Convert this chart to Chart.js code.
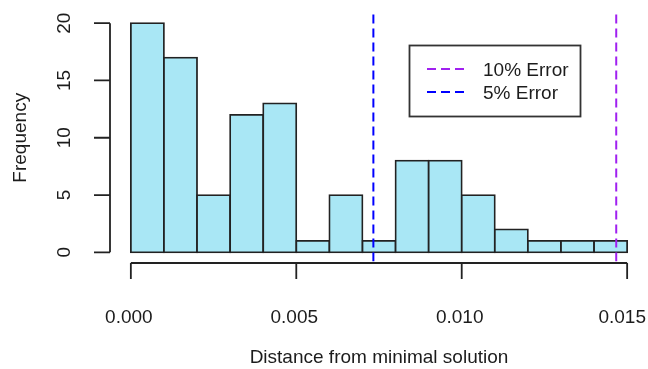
<!DOCTYPE html>
<html>
<head>
<meta charset="utf-8">
<script src="https://cdn.jsdelivr.net/npm/chart.js@4/dist/chart.umd.min.js"></script>
<style>
html, body { margin: 0; padding: 0; background: #fff; }
#wrap { width: 648px; height: 369px; }
</style>
</head>
<body>
<div id="wrap"><canvas id="hist-distance"></canvas></div>
<script>
// histogram bins (edges) and counts
var binEdges = [0.000, 0.001, 0.002, 0.003, 0.004, 0.005, 0.006, 0.007,
                0.008, 0.009, 0.010, 0.011, 0.012, 0.013, 0.014, 0.015];
var counts = [20, 17, 5, 12, 13, 1, 5, 1, 8, 8, 5, 2, 1, 1, 1];

// reference lines
var errorLabels = ['10% Error', '5% Error'];
var errorValues = [0.01467, 0.00733];
var errorColors = ['#a020f0', '#0000ff'];

// tick labels
var xTicks = [0.000, 0.005, 0.010, 0.015];
var xTickLabels = ['0.000', '0.005', '0.010', '0.015'];
var yTicks = [0, 5, 10, 15, 20];

var FONT = '"Liberation Sans", Arial, sans-serif';
var TEXT = '#1c1c1c';

// R style: plot region extends 4% beyond data range
var xMin = -0.0006, xMax = 0.0156;
var yMin = -0.8, yMax = 20.8;

function getBars() {
    var pts = [];
    for (var i = 0; i < counts.length; i++) {
        pts.push({x: (binEdges[i] + binEdges[i + 1]) / 2, y: counts[i]});
    }
    return pts;
}

function getErrorLine(i) {
    return {
        type: 'line',
        label: errorLabels[i],
        data: [{x: errorValues[i], y: yMin}, {x: errorValues[i], y: yMax}],
        borderColor: errorColors[i],
        borderWidth: 2,
        borderDash: [9, 5],
        pointRadius: 0,
        fill: false,
        order: 1
    };
}

function noPad(scale) {
    scale.paddingLeft = 0;
    scale.paddingRight = 0;
    scale.paddingTop = 0;
    scale.paddingBottom = 0;
}

// detached axes + boxed legend, like base R graphics
var rDecor = {
    id: 'rDecor',
    afterDraw: function (chart) {
        var ctx = chart.ctx, xs = chart.scales.x, ys = chart.scales.y, a = chart.chartArea;
        ctx.save();
        ctx.strokeStyle = '#222';
        ctx.lineWidth = 1.8;
        ctx.setLineDash([]);

        var by = a.bottom + 1.5;
        ctx.beginPath();
        ctx.moveTo(xs.getPixelForValue(xTicks[0]), by);
        ctx.lineTo(xs.getPixelForValue(xTicks[xTicks.length - 1]), by);
        xTicks.forEach(function (v) {
            var px = xs.getPixelForValue(v);
            ctx.moveTo(px, by);
            ctx.lineTo(px, by + 16);
        });
        var lx = a.left - 1;
        ctx.moveTo(lx, ys.getPixelForValue(yTicks[0]));
        ctx.lineTo(lx, ys.getPixelForValue(yTicks[yTicks.length - 1]));
        yTicks.forEach(function (v) {
            var py = ys.getPixelForValue(v);
            ctx.moveTo(lx, py);
            ctx.lineTo(lx - 16, py);
        });
        ctx.stroke();

        // x tick labels, last one kept inside the canvas
        ctx.font = '19px ' + FONT;
        ctx.fillStyle = TEXT;
        ctx.textAlign = 'center';
        ctx.textBaseline = 'middle';
        xTicks.forEach(function (v, i) {
            var w = ctx.measureText(xTickLabels[i]).width;
            var px = Math.min(xs.getPixelForValue(v) - 2, chart.width - 2 - w / 2);
            ctx.fillText(xTickLabels[i], px, by + 55);
        });

        // legend box
        ctx.strokeStyle = '#333';
        ctx.lineWidth = 1.8;
        ctx.strokeRect(409.5, 45.5, 171, 71);
        ctx.textAlign = 'left';
        var rows = [69, 92];
        for (var i = 0; i < errorLabels.length; i++) {
            ctx.beginPath();
            ctx.strokeStyle = errorColors[i];
            ctx.lineWidth = 2;
            ctx.setLineDash([9, 5]);
            ctx.moveTo(427, rows[i]);
            ctx.lineTo(465, rows[i]);
            ctx.stroke();
            ctx.fillText(errorLabels[i], 483, rows[i] + 1.5);
        }
        ctx.restore();
    }
};

Chart.defaults.font.family = FONT;
Chart.defaults.color = TEXT;

var ctx = document.getElementById('hist-distance');
var histChart = new Chart(ctx, {
    type: 'bar',
    data: {
        datasets: [
            getErrorLine(0),
            getErrorLine(1),
            {
                type: 'bar',
                label: 'Frequency',
                data: getBars(),
                backgroundColor: '#a9e7f5',
                borderColor: '#222',
                borderWidth: 1.8,
                borderSkipped: false,
                inflateAmount: 0.9,
                barPercentage: 1,
                categoryPercentage: 1,
                grouped: false,
                order: 2
            }
        ]
    },
    options: {
        responsive: true,
        maintainAspectRatio: false,
        animation: false,
        events: [],
        layout: {padding: {left: 0, right: 1, top: 14, bottom: 0}},
        plugins: {legend: {display: false}, tooltip: {enabled: false}},
        scales: {
            x: {
                type: 'linear',
                offset: false,
                min: xMin,
                max: xMax,
                grid: {display: false, drawTicks: false, offset: false},
                border: {display: false},
                afterBuildTicks: function (scale) {
                    scale.ticks = xTicks.map(function (v) { return {value: v}; });
                },
                afterFit: function (scale) { scale.height = 107.5; noPad(scale); },
                ticks: {display: false},
                title: {
                    display: true,
                    text: 'Distance from minimal solution',
                    font: {size: 19},
                    color: TEXT,
                    padding: {top: 0, bottom: 0}
                }
            },
            y: {
                type: 'linear',
                min: yMin,
                max: yMax,
                grid: {display: false, drawTicks: false},
                border: {display: false},
                afterBuildTicks: function (scale) {
                    scale.ticks = yTicks.map(function (v) { return {value: v}; });
                },
                afterFit: function (scale) { scale.width = 111; noPad(scale); },
                ticks: {
                    autoSkip: false,
                    minRotation: 90,
                    maxRotation: 90,
                    crossAlign: 'center',
                    padding: 36,
                    font: {size: 19},
                    color: TEXT
                },
                title: {
                    display: true,
                    text: 'Frequency',
                    font: {size: 19},
                    color: TEXT,
                    padding: {top: 9, bottom: 0}
                }
            }
        }
    },
    plugins: [rDecor]
});
</script>
</body>
</html>
